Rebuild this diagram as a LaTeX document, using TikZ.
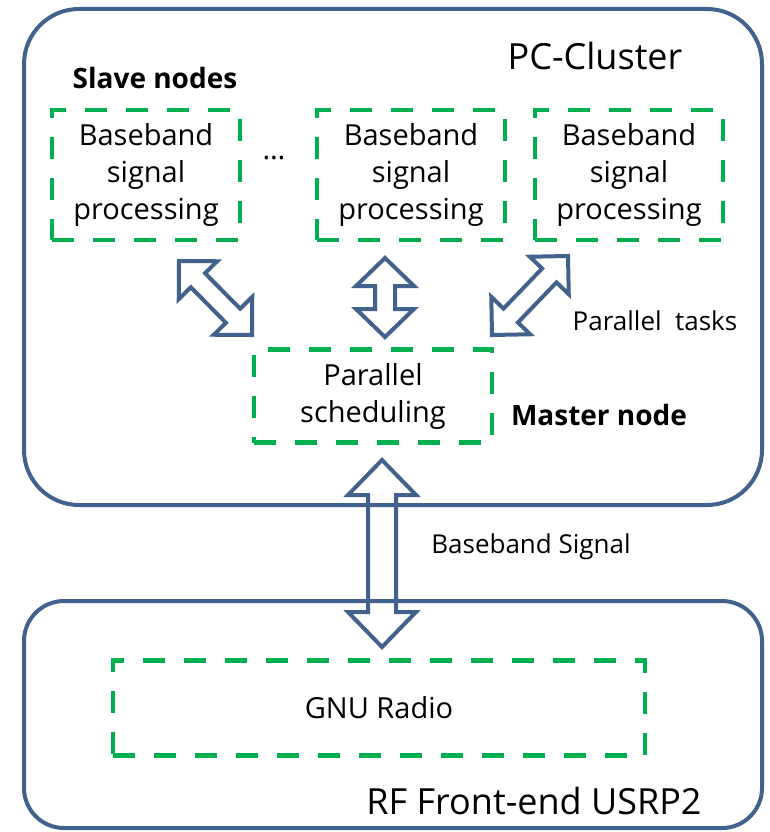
\documentclass[tikz,border=0pt]{standalone}
\usepackage{fontspec}
\setmainfont{Open Sans}
\usetikzlibrary{calc}

\definecolor{frameblue}{RGB}{65,98,140}
\definecolor{dashgreen}{RGB}{0,176,80}

\tikzset{
	cluster/.style={draw=frameblue, line width=4pt},
	taskbox/.style={draw=dashgreen, line width=4.5pt, dash pattern=on 22pt off 19pt,
		minimum width=188pt, minimum height=130pt, align=center,
		font=\fontsize{29}{37}\selectfont},
	fat/.style={draw=frameblue, line width=4pt, line join=miter},
	label/.style={font=\fontsize{26}{30}\selectfont},
	biglabel/.style={font=\fontsize{36}{40}\selectfont},
	boldlabel/.style={font=\bfseries\fontsize{28}{32}\selectfont},
}

% hollow double arrow: ends, shaft half width, head half width, head length
\newcommand{\fatarrow}[5]{%
	\draw[fat] (#1) -- ($(#1)!#5!(#2)!#4!90:(#2)$) -- ($(#1)!#5!(#2)!#3!90:(#2)$)
		-- ($(#2)!#5!(#1)!#3!-90:(#1)$) -- ($(#2)!#5!(#1)!#4!-90:(#1)$) -- (#2)
		-- ($(#2)!#5!(#1)!#4!90:(#1)$) -- ($(#2)!#5!(#1)!#3!90:(#1)$)
		-- ($(#1)!#5!(#2)!#3!-90:(#2)$) -- ($(#1)!#5!(#2)!#4!-90:(#2)$) -- cycle;
}

\begin{document}
\begin{tikzpicture}[x=1pt, y=-1pt]
		%\draw[help lines] (0,0) grid (770,832);
		\useasboundingbox (0,0) rectangle (770,832);
		\draw[cluster, rounded corners=55pt] (24,9) rectangle (762,505);
		\draw[cluster, rounded corners=40pt] (24,601) rectangle (762,828);

		% slave nodes
		\node[taskbox] (slave1) at (146,175) {Baseband\\signal\\processing};
		\node[taskbox] (slave2) at (411,175) {Baseband\\signal\\processing};
		\node[taskbox] (slave3) at (629,175) {Baseband\\signal\\processing};
		\node[font=\fontsize{29}{37}\selectfont] (dots) at (274,158) {…};

		% master and radio
		\node[taskbox, minimum width=238pt, minimum height=93pt] (master) at (373,396) {Parallel\\scheduling};
		\node[taskbox, minimum width=532pt, minimum height=95pt] (gnu) at (379,708) {GNU Radio};

		\node[biglabel] (pccluster) at (595,56) {PC-Cluster};
		\node[biglabel] (rflabel) at (534,801) {RF Front-end USRP2};
		\node[boldlabel] (slavelabel) at (155,78) {Slave nodes};
		\node[boldlabel] (masterlabel) at (599,415) {Master node};
		\node[label] (tasklabel) at (655,321) {Parallel\ \ tasks};
		\node[label] (siglabel) at (531,547) {Baseband Signal};

		% arrows
		\coordinate (a1) at (179,261);
		\coordinate (b1) at (252,335);
		\coordinate (a2) at (385,258);
		\coordinate (b2) at (385,337);
		\coordinate (a3) at (568,256);
		\coordinate (b3) at (492,335);
		\coordinate (a4) at (382,460);
		\coordinate (b4) at (382,647);
		\fatarrow{a1}{b1}{10pt}{27pt}{27pt}
		\fatarrow{a2}{b2}{10pt}{29pt}{28pt}
		\fatarrow{a3}{b3}{10pt}{27pt}{27pt}
		\fatarrow{a4}{b4}{14pt}{34pt}{35pt}
\end{tikzpicture}
\end{document}
